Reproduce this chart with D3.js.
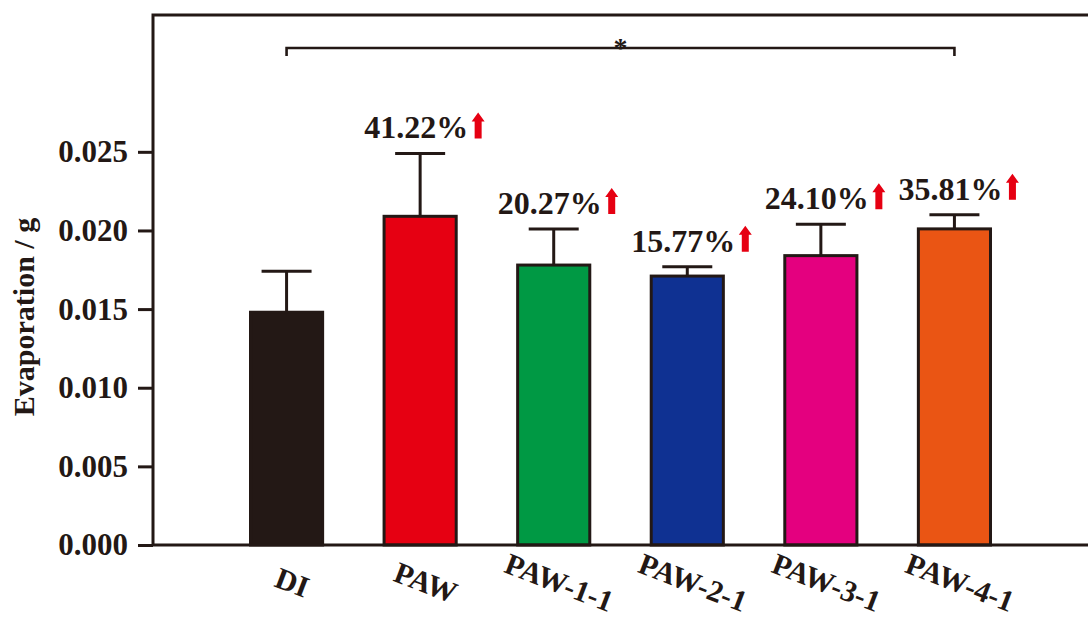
<!DOCTYPE html>
<html>
<head>
<meta charset="utf-8">
<script src="https://cdn.jsdelivr.net/npm/d3@7"></script>
<style>
  body { margin: 0; background: #fff; }
  text { font-family: "Liberation Serif", "Times New Roman", serif; font-weight: bold; fill: #231815; }
</style>
</head>
<body>
<svg class="chart"></svg>
<script>
var categories = ['DI', 'PAW', 'PAW-1-1', 'PAW-2-1', 'PAW-3-1', 'PAW-4-1'];
var evaporation = [0.0148, 0.0209, 0.0178, 0.0171, 0.0184, 0.0201];
var errorTop = [0.0174, 0.0249, 0.0201, 0.0177, 0.0204, 0.0210];
var increase = ['', '41.22%', '20.27%', '15.77%', '24.10%', '35.81%'];
var colors = ['#231815', '#e60012', '#009944', '#0f3192', '#e4007f', '#ea5514'];
var yTicks = [0, 0.005, 0.010, 0.015, 0.020, 0.025];

var width = 1088,
    height = 617,
    plotLeft = 153,
    plotTop = 15,
    plotBottom = 545,
    ink = '#231815';

var svg = d3.select(".chart")
    .attr("width", width)
    .attr("height", height);

var x = d3.scaleBand()
    .domain(categories)
    .range([plotLeft, width])
    .paddingInner(0.46)
    .paddingOuter(0.73);

var y = d3.scaleLinear()
    .domain([0, 0.0337])
    .range([plotBottom, plotTop]);

//bars
svg.selectAll("rect.bar")
    .data(categories)
    .enter().append("rect")
    .attr("class", "bar")
    .attr("x", function(d) { return x(d); })
    .attr("y", function(d, i) { return y(evaporation[i]); })
    .attr("width", x.bandwidth())
    .attr("height", function(d, i) { return plotBottom - y(evaporation[i]); })
    .style("fill", function(d, i) { return colors[i]; })
    .style("stroke", ink)
    .style("stroke-width", 3);

//error bars (upper half only)
var err = svg.selectAll("g.err")
    .data(categories)
    .enter().append("g")
    .attr("class", "err")
    .attr("transform", function(d) { return "translate(" + (x(d) + x.bandwidth() / 2) + ",0)"; });

err.append("line")
    .attr("y1", function(d, i) { return y(evaporation[i]); })
    .attr("y2", function(d, i) { return y(errorTop[i]); })
    .style("stroke", ink)
    .style("stroke-width", 3);

err.append("line")
    .attr("x1", -25).attr("x2", 25)
    .attr("y1", function(d, i) { return y(errorTop[i]); })
    .attr("y2", function(d, i) { return y(errorTop[i]); })
    .style("stroke", ink)
    .style("stroke-width", 3);

//percentage labels with red arrows
err.each(function(d, i) {
  if (!increase[i]) return;
  var g = d3.select(this);
  var base = y(errorTop[i]) - 15;
  var t = g.append("text")
      .attr("x", -4)
      .attr("y", base)
      .attr("text-anchor", "middle")
      .style("font-size", "32px")
      .text(increase[i]);
  var ax = -4 + t.node().getComputedTextLength() / 2 + 10;
  g.append("path")
      .attr("d", "M" + (ax - 3.5) + "," + base + "V" + (base - 17) + "H" + (ax - 6.5) +
                 "L" + ax + "," + (base - 26) + "L" + (ax + 6.5) + "," + (base - 17) +
                 "H" + (ax + 3.5) + "V" + base + "Z")
      .style("fill", "#e60012");
});

//y axis
var yAxis = d3.axisLeft(y)
    .tickValues(yTicks)
    .tickFormat(d3.format(".3f"))
    .tickSize(15)
    .tickPadding(10);

var ya = svg.append("g")
    .attr("transform", "translate(" + plotLeft + ",0)")
    .call(yAxis);
ya.select(".domain").remove();
ya.selectAll("line").style("stroke", ink).style("stroke-width", 3);
ya.selectAll("text").style("font-size", "31px").style("font-family", null).style("fill", ink);

//frame: left, bottom and top lines
svg.append("path")
    .attr("d", "M" + width + "," + plotTop + "H" + plotLeft + "V" + plotBottom + "H" + width)
    .style("fill", "none")
    .style("stroke", ink)
    .style("stroke-width", 3);

//x labels
svg.selectAll("text.xlab")
    .data(categories)
    .enter().append("text")
    .attr("class", "xlab")
    .attr("text-anchor", "middle")
    .attr("transform", function(d) { return "translate(" + (x(d) + x.bandwidth() / 2 + 2) + ",592) rotate(21)"; })
    .style("font-size", "30px")
    .text(function(d) { return d; });

//y title
svg.append("text")
    .attr("transform", "translate(34,317) rotate(-90)")
    .attr("text-anchor", "middle")
    .style("font-size", "30px")
    .text("Evaporation / g");

//significance bracket DI vs PAW-4-1
var bx1 = x('DI') + x.bandwidth() / 2,
    bx2 = x('PAW-4-1') + x.bandwidth() / 2;
svg.append("path")
    .attr("d", "M" + bx1 + ",56V48H" + bx2 + "V56")
    .style("fill", "none")
    .style("stroke", ink)
    .style("stroke-width", 2.6);

svg.append("text")
    .attr("x", (bx1 + bx2) / 2)
    .attr("y", 57)
    .attr("text-anchor", "middle")
    .style("font-size", "28px")
    .text("*");
</script>
</body>
</html>
